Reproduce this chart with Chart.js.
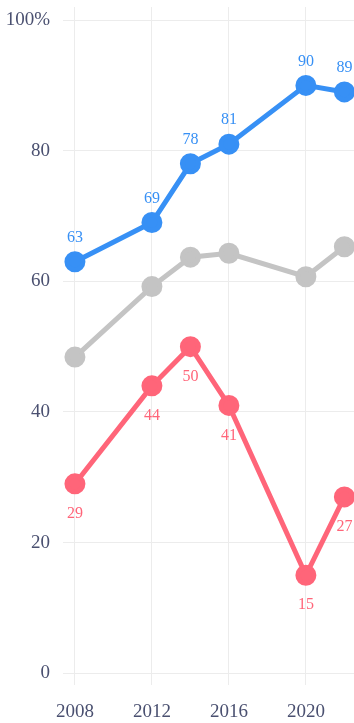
<!DOCTYPE html>
<html>
<head>
<meta charset="utf-8">
<script src="https://cdn.jsdelivr.net/npm/chart.js@4/dist/chart.umd.min.js"></script>
<style>
  html, body { margin: 0; padding: 0; background: #fff; }
  #wrap { width: 354px; height: 723px; }
</style>
</head>
<body>
<div id="wrap"><canvas id="trend" width="354" height="723"></canvas></div>
<script>
const years = [2008, 2012, 2014, 2016, 2020, 2022];
const blueVals = [63, 69, 78, 81, 90, 89];
const grayVals = [48.4, 59.2, 63.7, 64.3, 60.7, 65.3];
const redVals = [29, 44, 50, 41, 15, 27];
const xTicks = [2008, 2012, 2016, 2020];
const yTicks = [0, 20, 40, 60, 80, 100];

const axisColor = '#4a5070';
const gridColor = '#ececec';
const serif = "'Liberation Serif', 'DejaVu Serif', serif";

function pts(vals) {
  return vals.map((v, i) => ({ x: years[i], y: v }));
}

// value labels: blue above the points, red below
const valueLabels = {
  id: 'valueLabels',
  afterDatasetsDraw(chart) {
    const c = chart.ctx;
    c.save();
    c.font = '16px ' + serif;
    c.textAlign = 'center';
    c.textBaseline = 'middle';
    chart.data.datasets.forEach((ds, di) => {
      if (!ds.labelPos) return;
      const meta = chart.getDatasetMeta(di);
      c.fillStyle = ds.borderColor;
      meta.data.forEach((p, i) => {
        const dy = ds.labelPos === 'above' ? -24 : 30;
        c.fillText(String(ds.data[i].y), p.x, p.y + dy);
      });
    });
    c.restore();
  }
};

function series(vals, color, labelPos) {
  return {
    data: pts(vals),
    borderColor: color,
    backgroundColor: color,
    pointBackgroundColor: color,
    pointBorderColor: color,
    borderWidth: 5,
    pointRadius: 8,
    pointHoverRadius: 8,
    tension: 0,
    labelPos: labelPos
  };
}

new Chart(document.getElementById('trend'), {
  type: 'line',
  data: {
    datasets: [
      series(grayVals, '#c4c4c4', null),
      series(redVals, '#ff6579', 'below'),
      series(blueVals, '#3790f5', 'above')
    ]
  },
  plugins: [valueLabels],
  options: {
    responsive: false,
    animation: false,
    layout: { autoPadding: false, padding: { top: 7, right: 0, left: 0, bottom: 0 } },
    plugins: {
      legend: { display: false },
      tooltip: { enabled: false }
    },
    scales: {
      x: {
        type: 'linear',
        min: 2007.38,
        max: 2022.5,
        afterBuildTicks: (s) => { s.ticks = xTicks.map(v => ({ value: v })); },
        afterFit: (s) => {
          s.height = 38;
          s.paddingLeft = 0;
          s.paddingRight = 0;
        },
        border: { display: false },
        grid: { color: gridColor, drawTicks: false },
        ticks: {
          color: axisColor,
          font: { family: serif, size: 19 },
          padding: 16,
          callback: (v) => String(v)
        }
      },
      y: {
        min: -1.8,
        max: 102,
        afterBuildTicks: (s) => { s.ticks = yTicks.map(v => ({ value: v })); },
        afterFit: (s) => {
          s.width = 63;
          s.paddingTop = 0;
          s.paddingBottom = 0;
        },
        border: { display: false },
        grid: { color: gridColor, drawTicks: false },
        ticks: {
          color: axisColor,
          font: { family: serif, size: 19 },
          padding: 13,
          callback: (v) => v === 100 ? '100%' : String(v)
        }
      }
    }
  }
});
</script>
</body>
</html>
